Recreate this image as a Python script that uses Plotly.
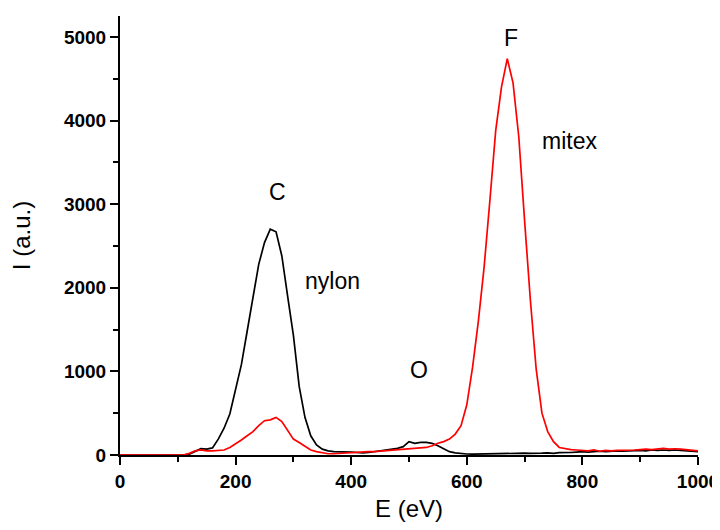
import plotly.graph_objects as go

# Energy grid (eV)
energy = list(range(0, 1001, 10))

# nylon (black) intensity, a.u.
nylon = [
    0, 0, 0, 0, 0, 0, 0, 0, 0, 0,          # 0-90
    0, 0, 10, 40, 75, 70, 85, 190, 320, 490,   # 100-190
    780, 1080, 1480, 1880, 2280, 2540, 2700, 2670, 2380, 1900,  # 200-290
    1430, 820, 450, 230, 120, 70, 50, 40, 40, 40,   # 300-390
    35, 30, 25, 30, 40, 50, 65, 75, 80, 100,   # 400-490
    160, 140, 150, 150, 140, 110, 70, 40, 25, 15,   # 500-590
    12, 10, 12, 10, 15, 12, 15, 20, 18, 20,   # 600-690
    22, 20, 25, 22, 25, 20, 28, 25, 30, 35,   # 700-790
    40, 35, 40, 45, 40, 45, 50, 45, 50, 55,   # 800-890
    55, 50, 60, 55, 60, 55, 60, 55, 50, 45, 40  # 900-1000
]

# mitex (red) intensity, a.u.
mitex = [
    0, 0, 0, 0, 0, 0, 0, 0, 0, 0,          # 0-90
    0, 0, 20, 50, 60, 50, 50, 55, 60, 90,   # 100-190
    130, 180, 230, 280, 350, 410, 420, 450, 400, 300,   # 200-290
    190, 150, 100, 60, 40, 25, 15, 15, 20, 25,   # 300-390
    30, 30, 35, 40, 40, 45, 50, 55, 60, 65,   # 400-490
    70, 75, 80, 90, 110, 140, 160, 190, 250, 350,   # 500-590
    600, 1050, 1600, 2250, 3050, 3880, 4400, 4740, 4450, 3800,  # 600-690
    2800, 1850, 1030, 500, 280, 160, 90, 75, 65, 60,   # 700-790
    55, 50, 60, 45, 55, 50, 55, 55, 60, 60,   # 800-890
    65, 70, 65, 70, 80, 70, 75, 70, 65, 55, 50   # 900-1000
]

# Peak labels
label_text = ["C", "nylon", "O", "F", "mitex"]
label_x = [272, 368, 518, 676, 778]
label_y = [3150, 2080, 1020, 4990, 3760]

fig = go.Figure()
fig.add_trace(go.Scatter(x=energy, y=nylon, mode="lines",
                         line=dict(color="black", width=1.7), name="nylon"))
fig.add_trace(go.Scatter(x=energy, y=mitex, mode="lines",
                         line=dict(color="#ff0000", width=1.7), name="mitex"))

for t, x, y in zip(label_text, label_x, label_y):
    fig.add_annotation(x=x, y=y, text=t, showarrow=False,
                       font=dict(family="Liberation Sans, Arial", size=23, color="black"))

axis_common = dict(
    showgrid=False, zeroline=False, showline=True, linecolor="black", linewidth=2,
    ticks="outside", ticklen=8, tickwidth=2, tickcolor="black", automargin=False,
    ticklabeloverflow="allow",
    tickfont=dict(family="Liberation Sans, Arial", size=19, color="black", weight="bold"),
)

# page body has an 8px margin, so the figure is offset by 8px in the window
fig.update_layout(
    width=712, height=514,
    margin=dict(l=112, r=22, t=8, b=67),
    plot_bgcolor="white", paper_bgcolor="white",
    showlegend=False,
    xaxis=dict(range=[0, 1000], dtick=200, tick0=0,
               minor=dict(dtick=100, ticks="outside", ticklen=5, tickwidth=2, tickcolor="black"),
               title=dict(text="E (eV)", standoff=18,
                          font=dict(family="Liberation Sans, Arial", size=24, color="black")),
               **axis_common),
    yaxis=dict(range=[0, 5250], dtick=1000, tick0=0,
               minor=dict(dtick=500, ticks="outside", ticklen=5, tickwidth=2, tickcolor="black"),
               title=dict(text="I (a.u.)", standoff=29,
                          font=dict(family="Liberation Sans, Arial", size=24, color="black")),
               **axis_common),
)

fig.write_html("out.html")
